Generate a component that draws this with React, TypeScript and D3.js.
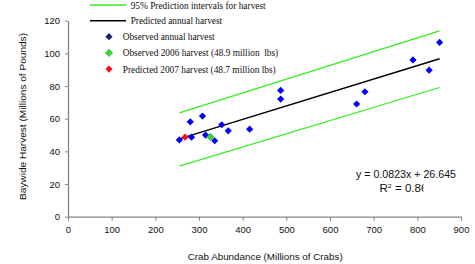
import React, { useRef, useEffect } from 'react';
import * as d3 from 'd3';

// observed annual harvest (crab abundance, harvest)
const abundance = [255, 280, 283, 308, 315, 336, 352, 367, 416, 487, 487, 661, 680, 790, 827, 851];
const harvest = [47, 58.1, 48.7, 61.6, 50, 46.5, 56.3, 52.6, 53.6, 77.3, 72, 69, 76.5, 96, 89.7, 106.7];

const obs2006 = { x: 326, y: 48.9 };
const pred2007 = { x: 268, y: 48.7 };

const slope = 0.0823;
const intercept = 26.645;
const fitX = [255, 851];
const upperY = [63.6, 113.8];
const lowerY = [31, 79.1];

const xTicks = [0, 100, 200, 300, 400, 500, 600, 700, 800, 900];
const yTicks = [0, 20, 40, 60, 80, 100, 120];

const legendLines = [
  { label: '95% Prediction intervals for harvest', color: '#33ee22', len: 135 },
  { label: 'Predicted annual harvest', color: '#000000', len: 91.5 },
];
const legendMarkers = [
  { label: 'Observed annual harvest', color: '#1c1c78', len: 92 },
  { label: 'Observed 2006 harvest (48.9 million\u00a0 lbs)', color: '#33dd33', len: 155.5 },
  { label: 'Predicted 2007 harvest (48.7 million lbs)', color: '#ff1010', len: 153 },
];

const diamond = (r: number) => `M0,${-r}L${r},0L0,${r}L${-r},0Z`;

const App = () => {
  const svgRef = useRef<SVGSVGElement>(null);
  const width = 475;
  const height = 264;

  useEffect(() => {
    const svg = d3.select(svgRef.current);
    svg.selectAll('*').remove();

    const x = d3.scaleLinear().domain([0, 900]).range([68, 461]);
    const y = d3.scaleLinear().domain([0, 120]).range([216.7, 20.7]);

    const axisColor = '#858585';
    const sans = 'Liberation Sans, Arial, sans-serif';
    const serif = 'Liberation Serif, Times New Roman, serif';

    // x axis
    const gx = svg.append('g')
      .attr('transform', `translate(0,${y(0)})`)
      .call(d3.axisBottom(x).tickValues(xTicks).tickSize(4).tickSizeOuter(0).tickPadding(6));
    gx.select('.domain').attr('stroke', axisColor).attr('stroke-width', 1.3);
    gx.selectAll('.tick line').attr('stroke', axisColor);
    gx.selectAll('.tick text').attr('font-family', sans).attr('font-size', 9.5).attr('fill', '#111');

    // y axis
    const gy = svg.append('g')
      .attr('transform', `translate(${x(0)},0)`)
      .call(d3.axisLeft(y).tickValues(yTicks).tickSize(3).tickSizeOuter(0).tickPadding(5));
    gy.select('.domain').attr('stroke', axisColor).attr('stroke-width', 1.3);
    gy.selectAll('.tick line').attr('stroke', axisColor);
    gy.selectAll('.tick text').attr('font-family', sans).attr('font-size', 9.5).attr('fill', '#111');

    // axis titles
    svg.append('text')
      .attr('x', 187.7).attr('y', 260)
      .attr('textLength', 155).attr('lengthAdjust', 'spacingAndGlyphs')
      .attr('font-family', sans).attr('font-size', 9.3)
      .attr('fill', '#111')
      .text('Crab Abundance (Millions of Crabs)');
    svg.append('text')
      .attr('transform', `translate(26,200) rotate(-90)`)
      .attr('textLength', 167).attr('lengthAdjust', 'spacingAndGlyphs')
      .attr('font-family', sans).attr('font-size', 9.3)
      .attr('fill', '#111')
      .text('Baywide Harvest (Millions of Pounds)');

    // prediction intervals
    const line = d3.line<[number, number]>().x(d => x(d[0])).y(d => y(d[1]));
    [upperY, lowerY].forEach(ys => {
      svg.append('path')
        .datum(fitX.map((v, i) => [v, ys[i]] as [number, number]))
        .attr('fill', 'none')
        .attr('stroke', '#33ee22')
        .attr('stroke-width', 1.2)
        .attr('d', line);
    });

    // regression line
    svg.append('path')
      .datum(fitX.map(v => [v, slope * v + intercept] as [number, number]))
      .attr('fill', 'none')
      .attr('stroke', '#000')
      .attr('stroke-width', 1.5)
      .attr('d', line);

    // observed points
    svg.append('g').selectAll('path')
      .data(abundance.map((v, i) => [v, harvest[i]]))
      .join('path')
      .attr('d', diamond(3.6))
      .attr('transform', d => `translate(${x(d[0])},${y(d[1])})`)
      .attr('fill', '#0000ff');

    svg.append('path')
      .attr('d', diamond(3.6))
      .attr('transform', `translate(${x(obs2006.x)},${y(obs2006.y)})`)
      .attr('fill', '#33dd33').attr('stroke', '#1a8a1a').attr('stroke-width', 0.6);
    svg.append('path')
      .attr('d', diamond(3.6))
      .attr('transform', `translate(${x(pred2007.x)},${y(pred2007.y)})`)
      .attr('fill', '#ff1010');

    // legend
    legendLines.forEach((d, i) => {
      const ly = 5 + i * 15.7;
      svg.append('line')
        .attr('x1', 90).attr('x2', 126).attr('y1', ly).attr('y2', ly)
        .attr('stroke', d.color).attr('stroke-width', 1.5);
      svg.append('text')
        .attr('x', 130.7).attr('y', ly + 3.5)
        .attr('textLength', d.len).attr('lengthAdjust', 'spacingAndGlyphs')
        .attr('font-family', serif).attr('font-size', 10).attr('fill', '#111')
        .text(d.label);
    });
    legendMarkers.forEach((d, i) => {
      const ly = 36.7 + i * 16.2;
      svg.append('path')
        .attr('d', diamond(3.6))
        .attr('transform', `translate(109,${ly})`)
        .attr('fill', d.color)
        .attr('stroke', i === 1 ? '#1a8a1a' : 'none').attr('stroke-width', 0.6);
      svg.append('text')
        .attr('x', 122.7).attr('y', ly + 3.5)
        .attr('textLength', d.len).attr('lengthAdjust', 'spacingAndGlyphs')
        .attr('font-family', serif).attr('font-size', 10).attr('fill', '#111')
        .text(d.label);
    });

    // equation (R² line is cut off at the plot edge, as in the original)
    svg.append('text')
      .attr('x', 356).attr('y', 177.5)
      .attr('textLength', 100).attr('lengthAdjust', 'spacingAndGlyphs')
      .attr('font-family', sans).attr('font-size', 10).attr('fill', '#111')
      .text(`y = ${slope}x + ${intercept}`);
    svg.append('clipPath').attr('id', 'r2clip')
      .append('rect').attr('x', 370).attr('y', 178).attr('width', 53.5).attr('height', 18);
    const r2 = svg.append('g')
      .attr('clip-path', 'url(#r2clip)')
      .append('text')
      .attr('transform', 'translate(379.5,191.5) scale(1.16,1)')
      .attr('font-family', sans).attr('font-size', 10).attr('fill', '#111');
    r2.append('tspan').text('R');
    r2.append('tspan').attr('font-size', 6).attr('dy', -4).text('2');
    r2.append('tspan').attr('dy', 4).text(' = 0.86');
  }, []);

  return (
    <svg
      ref={svgRef}
      width={width}
      height={height}
      style={{ position: 'absolute', left: 0, top: 0, background: '#fff' }}
    />
  );
};

export default App;
